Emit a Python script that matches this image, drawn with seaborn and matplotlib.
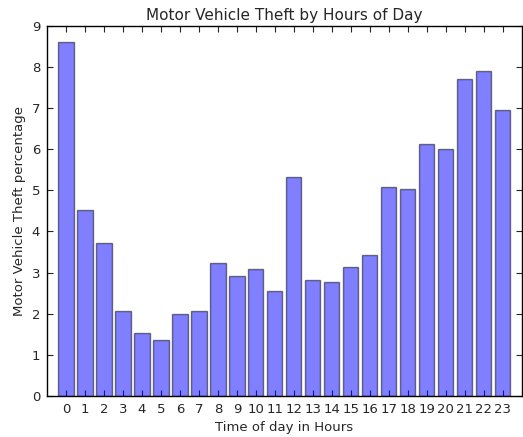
import matplotlib
matplotlib.use("Agg")
import matplotlib.pyplot as plt
import pandas as pd
import seaborn as sns

# ── data ─────────────────────────────────────────────────────────────────────
hours = list(range(24))
theft_pct = [8.60, 4.53, 3.72, 2.06, 1.54, 1.35, 1.99, 2.06, 3.22, 2.92, 3.09, 2.55,
             5.32, 2.81, 2.77, 3.13, 3.43, 5.09, 5.04, 6.12, 6.01, 7.70, 7.89, 6.96]

df = pd.DataFrame({"hour": hours, "pct": theft_pct})

sns.set_style("ticks")
plt.rcParams["font.family"] = ["DejaVu Sans"]

fig = plt.figure(figsize=(5.23, 4.37), dpi=100)
ax = fig.add_axes([0.09, 0.094, 0.9075, 0.847])

sns.barplot(data=df, x="hour", y="pct", ax=ax, color="blue", alpha=0.5,
            saturation=1, width=0.8, edgecolor="black", linewidth=1)

ax.set_xlim(-1, 24)
ax.set_ylim(0, 9)
ax.set_title("Motor Vehicle Theft by Hours of Day", fontsize=11, pad=4)
ax.set_xlabel("Time of day in Hours", fontsize=9.5)
ax.set_ylabel("Motor Vehicle Theft percentage", fontsize=9.5)
ax.tick_params(direction="in", top=True, right=True, labelsize=9.5, length=4, pad=5)
for s in ax.spines.values():
    s.set_linewidth(1)
    s.set_color("black")

fig.savefig("out.png", dpi=100)
